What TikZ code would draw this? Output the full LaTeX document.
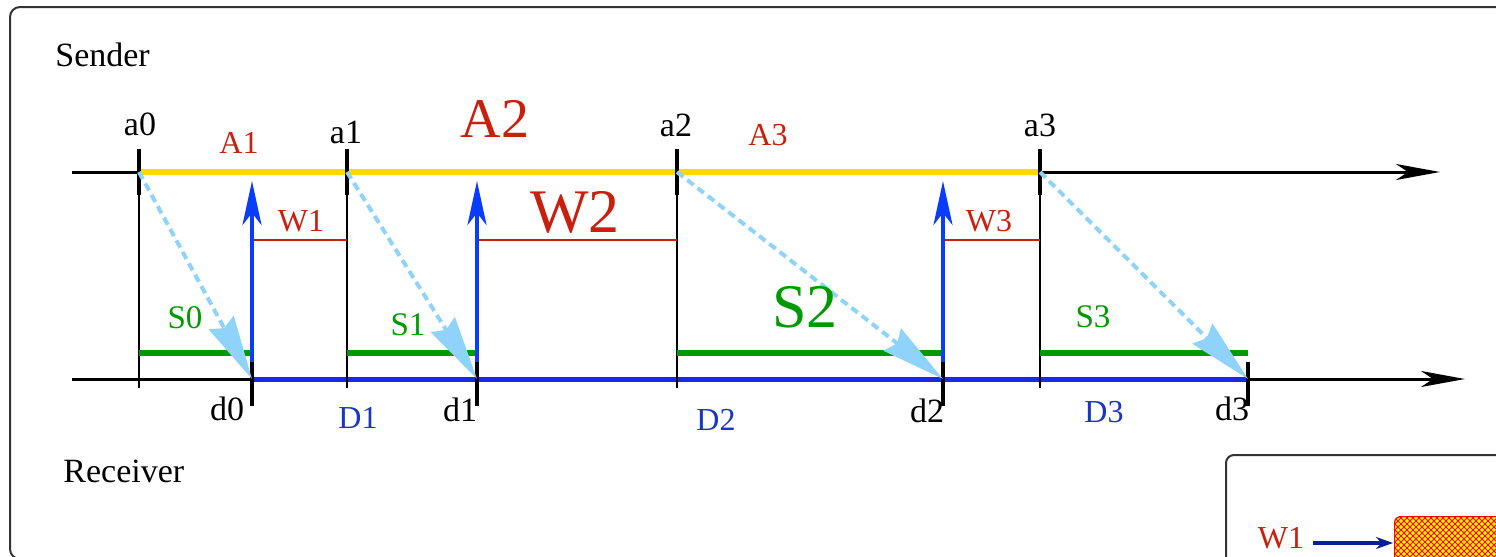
\documentclass[tikz,border=0pt]{standalone}
\usepackage{fontspec}
\setmainfont{Liberation Serif}
\usetikzlibrary{arrows.meta,patterns}
\definecolor{labred}{HTML}{C8200F}
\definecolor{gold}{HTML}{FFD800}
\definecolor{sgreen}{HTML}{009A00}
\definecolor{ackblue}{HTML}{0A3CFF}
\definecolor{axisblue}{HTML}{1030E0}
\definecolor{dblue}{HTML}{1A35C0}
\definecolor{lblue}{HTML}{8FD3FA}
\definecolor{navy}{HTML}{0A1E9A}
\definecolor{framegray}{HTML}{333333}
\begin{document}
\begin{tikzpicture}[x=0.5pt,y=-0.5pt,
  frame/.style={draw=framegray,line width=1pt},
  axis/.style={line width=1.5pt,-{Stealth[length=22pt,width=8pt,inset=6pt]}},
  tickmark/.style={line width=2pt},
  guide/.style={line width=0.7pt},
  sendint/.style={gold,line width=2.6pt},
  recvint/.style={axisblue,line width=2.5pt},
  ack/.style={ackblue,line width=2pt,-{Stealth[length=22pt,width=9.5pt,inset=6pt]}},
  waitline/.style={labred,line width=1.3pt},
  serv/.style={sgreen,line width=3.3pt},
  msg/.style={lblue,line width=2pt,dash pattern=on 4pt off 2.5pt,-{Stealth[length=32pt,width=14pt,inset=3pt]}},
  lbl/.style={inner sep=0pt,anchor=base,font=\fontsize{17}{20}\selectfont},
  redlbl/.style={lbl,text=labred,font=\fontsize{16}{19}\selectfont},
  bigred/.style={lbl,text=labred,font=\fontsize{31}{36}\selectfont},
  grnlbl/.style={lbl,text=sgreen,font=\fontsize{16.5}{19}\selectfont},
  bluelbl/.style={lbl,text=dblue,font=\fontsize{16}{19}\selectfont}
]
\useasboundingbox (0,0) rectangle (1496,557);
\clip (0,0) rectangle (1496,557);

% frames
\draw[frame,rounded corners=5pt] (10,559) rectangle (1530,7);
\draw[frame,rounded corners=4pt] (1226,600) rectangle (1530,455);

% coordinates
\coordinate (sstart) at (72,172);
\coordinate (send) at (1440,172);
\coordinate (rstart) at (72,379);
\coordinate (rend) at (1465,379);
\coordinate (a0) at (139,172);
\coordinate (a1) at (347,172);
\coordinate (a2) at (677,172);
\coordinate (a3) at (1040,172);
\coordinate (d0) at (252,379);
\coordinate (d1) at (477,379);
\coordinate (d2) at (943,379);
\coordinate (d3) at (1248,379);
\coordinate (gy) at (0,388);
\coordinate (acky) at (0,181);
\coordinate (wy) at (0,240);
\coordinate (sy) at (0,353);

% axes
\draw[axis] (sstart) -- (send);
\draw[axis] (rstart) -- (rend);
\draw[sendint] (a0) -- (a3);
\draw[recvint] (d0) -- (d3);

% guides
\foreach \a in {a0,a1,a2,a3}{
  \draw[guide] (\a) -- (\a |- gy);
  \draw[tickmark] ([yshift=11.5pt]\a) -- ([yshift=-11.5pt]\a);
}

% service (green)
\draw[serv] (a0 |- sy) -- (d0 |- sy);
\draw[serv] (a1 |- sy) -- (d1 |- sy);
\draw[serv] (a2 |- sy) -- (d2 |- sy);
\draw[serv] (a3 |- sy) -- (d3 |- sy);

% waiting (red)
\draw[waitline] (d0 |- wy) -- (a1 |- wy);
\draw[waitline] (d1 |- wy) -- (a2 |- wy);
\draw[waitline] (d2 |- wy) -- (a3 |- wy);

% acks (blue)
\foreach \d in {d0,d1,d2}{
  \draw[ack] ([yshift=8.5pt]\d) -- (\d |- acky);
}
\foreach \d in {d0,d1,d2,d3}{
  \draw[tickmark] ([yshift=8.5pt]\d) -- ([yshift=-13.5pt]\d);
}

% messages (light blue)
\draw[msg] (a0) -- (d0);
\draw[msg] (a1) -- (d1);
\draw[msg] (a2) -- (d2);
\draw[msg] (a3) -- (d3);

% labels
\node[lbl,anchor=base west] (snd) at (55,67) {Sender};
\node[lbl,anchor=base west] (rcv) at (63,482) {Receiver};
\node[lbl] (la0) at (140,135) {a0};
\node[lbl] (la1) at (346,143) {a1};
\node[lbl] (la2) at (676,136) {a2};
\node[lbl] (la3) at (1040,136) {a3};
\node[redlbl] (lA1) at (239,153) {A1};
\node[bigred,font=\fontsize{28}{32}\selectfont] (lA2) at (495,137) {A2};
\node[redlbl] (lA3) at (768,145) {A3};
\node[redlbl] (lW1) at (301,231) {W1};
\node[bigred] (lW2) at (575,232) {W2};
\node[redlbl] (lW3) at (989,231) {W3};
\node[grnlbl] (lS0) at (185,328) {S0};
\node[grnlbl] (lS1) at (408,335) {S1};
\node[bigred,text=sgreen] (lS2) at (805,327) {S2};
\node[grnlbl] (lS3) at (1093,327) {S3};
\node[lbl] (ld0) at (227,420) {d0};
\node[lbl] (ld1) at (460,421) {d1};
\node[lbl] (ld2) at (927,422) {d2};
\node[lbl] (ld3) at (1232,420) {d3};
\node[bluelbl] (lD1) at (358,428) {D1};
\node[bluelbl] (lD2) at (716,430) {D2};
\node[bluelbl] (lD3) at (1104,422) {D3};

% inset
\node[draw=red,line width=0.6pt,rounded corners=3pt,anchor=north west,
  minimum width=150pt,minimum height=40pt,inner sep=0pt,
  preaction={fill=yellow},
  preaction={pattern=north east lines,pattern color=red},
  pattern=north west lines,pattern color=red] (hb) at (1394,516) {};
\node[redlbl,anchor=base] (iw1) at (1281,548) {W1};
\coordinate (hbin) at (1393,543);
\draw[navy,line width=2pt,-{Stealth[length=8.5pt,width=6pt]}] (iw1.east |- hbin) ++(4pt,0) -- (hbin);
\end{tikzpicture}
\end{document}
